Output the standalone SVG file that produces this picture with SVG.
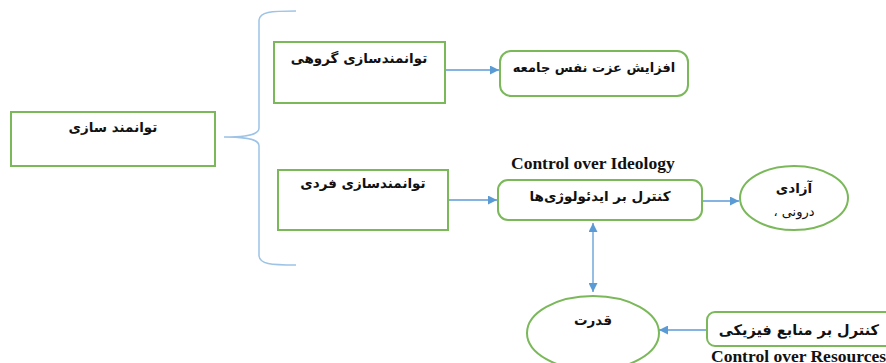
<svg xmlns="http://www.w3.org/2000/svg" width="886" height="363" viewBox="0 0 886 363">
<style>
.box{fill:#fff;stroke:#7ab85a;stroke-width:2}
.fa{font-family:"DejaVu Sans",sans-serif;font-weight:bold;font-size:13.5px;fill:#111;text-anchor:middle}
.en{font-family:"Liberation Serif",serif;font-weight:bold;font-size:17.5px;fill:#111}
.ln{fill:none;stroke:#5b9bd5;stroke-width:1.3}
.br{fill:none;stroke:#9dc3e6;stroke-width:1.5}
</style>
<defs>
<marker id="ah" viewBox="0 0 10 10" refX="10" refY="5" markerWidth="9" markerHeight="9" markerUnits="userSpaceOnUse" orient="auto-start-reverse">
<path d="M0,0 L10,5 L0,10 z" fill="#5b9bd5"/>
</marker>
</defs>
<rect width="886" height="363" fill="#fff"/>
<g id="connectors">
<path class="br" d="M296,11 C270,11 260,12 259,20 L259,128 C259,134 250,137 224,137 C250,137 259,140 259,146 L259,256 C260,264 270,265 296,265"/>
<line class="ln" x1="445" y1="70" x2="499" y2="70" marker-end="url(#ah)"/>
<line class="ln" x1="449" y1="200" x2="497" y2="200" marker-end="url(#ah)"/>
<line class="ln" x1="702" y1="201" x2="739" y2="201" marker-end="url(#ah)"/>
<line class="ln" x1="593" y1="223" x2="593" y2="292" marker-start="url(#ah)" marker-end="url(#ah)"/>
<line class="ln" x1="707" y1="330" x2="659" y2="330" marker-end="url(#ah)"/>
</g>
<g id="n1"><rect class="box" x="11" y="112" width="204" height="54"/><text class="fa" x="113" y="132">توانمند سازی</text></g>
<g id="n2"><rect class="box" x="274" y="42" width="171" height="61"/><text class="fa" x="359" y="63">توانمندسازی گروهی</text></g>
<g id="n3"><rect class="box" x="278" y="170" width="170" height="60"/><text class="fa" x="363" y="188">توانمندسازی فردی</text></g>
<g id="n4"><rect class="box" x="500" y="51" width="188" height="45" rx="11"/><text class="fa" x="594" y="72" style="font-size:13px">افزایش عزت نفس جامعه</text></g>
<g id="n5"><text class="en" x="511" y="169">Control over Ideology</text><rect class="box" x="498" y="180" width="204" height="40" rx="10"/><text class="fa" x="600" y="201">کنترل بر ایدئولوژی‌ها</text></g>
<g id="n6"><ellipse class="box" cx="794" cy="198" rx="54" ry="32"/><text class="fa" x="794" y="193">آزادی</text><text class="fa" x="794" y="216" direction="rtl" style="font-weight:normal;font-size:13px;direction:rtl">درونی ،</text></g>
<g id="n7"><ellipse class="box" cx="593" cy="333" rx="66" ry="37"/><text class="fa" x="593" y="325">قدرت</text></g>
<g id="n8"><rect class="box" x="707" y="312" width="200" height="34" rx="8"/><text class="fa" x="879" y="335" style="text-anchor:end;font-size:14.5px">کنترل بر منابع فیزیکی</text><text class="en" x="711" y="362">Control over Resources</text></g>
</svg>
